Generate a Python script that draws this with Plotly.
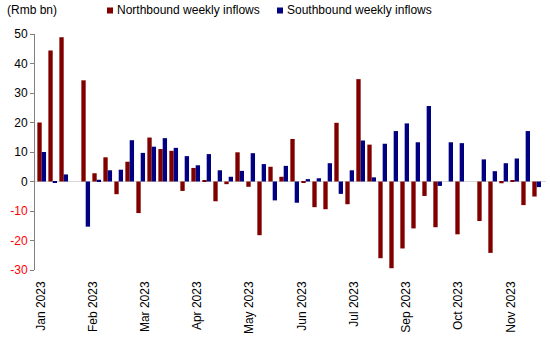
import plotly.graph_objects as go

# Weekly data (Rmb bn), 46 weeks from early Jan 2023 to mid Nov 2023
week_index = list(range(46))
northbound = [20.0, 44.4, 48.9, None, 34.3, 2.8, 8.2, -4.3, 6.7, -10.7,
              14.9, 11.0, 10.4, -3.2, 4.6, 0.2, -6.7, -0.9, 9.9, -1.8,
              -18.2, 5.0, 1.6, 14.4, -0.5, -8.7, -9.4, 19.9, -7.7, 34.7,
              12.5, -26.0, -29.4, -22.7, -15.9, -4.9, -15.5, None, -17.9, None,
              -13.4, -24.2, -0.6, 0.5, -8.0, -5.1]
southbound = [10.0, -0.5, 2.4, None, -15.3, 0.6, 3.8, 4.0, 14.0, 9.7,
              11.8, 14.7, 11.4, 8.6, 5.5, 9.3, 3.8, 1.6, 3.6, 9.6,
              5.9, -6.4, 5.3, -7.2, 0.8, 1.1, 6.2, -4.2, 3.8, 13.9,
              1.4, 12.8, 17.1, 19.7, 13.3, 25.6, -1.5, 13.3, 13.0, None,
              7.5, 3.5, 6.2, 7.8, 17.1, -1.9]
x_tick_labels = ["Jan 2023", "Feb 2023", "Mar 2023", "Apr 2023", "May 2023",
                 "Jun 2023", "Jul 2023", "Sep 2023", "Oct 2023", "Nov 2023"]
y_tick_values = [-30, -20, -10, 0, 10, 20, 30, 40, 50]
series_names = ["Northbound weekly inflows", "Southbound weekly inflows"]

RED = "#800000"
BLUE = "#000080"
FONT = "Liberation Sans, Arial, sans-serif"

W, H = 550, 337
ML, MR, MT, MB = 35, 4, 34, 67
PW, PH = W - ML - MR, H - MT - MB

def px_x(px):
    return (px - ML) / PW

def px_y(py):
    return 1 - (py - MT) / PH

fig = go.Figure()
fig.add_trace(go.Bar(x=week_index, y=northbound, name=series_names[0],
                     marker=dict(color=RED, line=dict(width=0)), showlegend=False))
fig.add_trace(go.Bar(x=week_index, y=southbound, name=series_names[1],
                     marker=dict(color=BLUE, line=dict(width=0)), showlegend=False))

step = 4.75
tickvals = [-0.1 + step * i for i in range(len(x_tick_labels))]

ytext = [(f"<span style='color:#ff0000'>{v}</span>" if v < 0 else str(v)) for v in y_tick_values]

fig.update_layout(
    width=W, height=H,
    margin=dict(l=ML, r=MR, t=MT, b=MB),
    paper_bgcolor="white", plot_bgcolor="white",
    barmode="group", bargap=0.21, bargroupgap=0,
    font=dict(family=FONT, size=12, color="black"),
    xaxis=dict(range=[-0.61, 45.85], tickmode="array", tickvals=tickvals,
               ticktext=x_tick_labels, tickangle=-90, showgrid=False,
               zeroline=False, showline=False, ticks="", ticklabelstandoff=8,
               tickfont=dict(size=12, family=FONT, color="black")),
    yaxis=dict(range=[-30, 50], tickmode="array", tickvals=y_tick_values,
               ticktext=ytext, showgrid=False, zeroline=True,
               zerolinecolor="#d9d9d9", zerolinewidth=1,
               showline=True, linecolor="#808080", linewidth=1,
               ticks="outside", ticklen=4, tickcolor="#808080",
               tickfont=dict(size=12, family=FONT, color="black")),
)

# Unit label and legend (top row)
fig.add_annotation(xref="paper", yref="paper", x=px_x(5), y=px_y(10),
                   xanchor="left", yanchor="middle", text="(Rmb bn)",
                   showarrow=False, font=dict(size=12, family=FONT))
for name, color, sx in [(series_names[0], RED, 107), (series_names[1], BLUE, 277)]:
    fig.add_shape(type="rect", xref="paper", yref="paper",
                  x0=px_x(sx), x1=px_x(sx + 6), y0=px_y(13.5), y1=px_y(7.5),
                  fillcolor=color, line=dict(width=0))
    fig.add_annotation(xref="paper", yref="paper", x=px_x(sx + 8), y=px_y(10),
                       xanchor="left", yanchor="middle", text=name,
                       showarrow=False, font=dict(size=12, family=FONT))

fig.write_html("out.html")
